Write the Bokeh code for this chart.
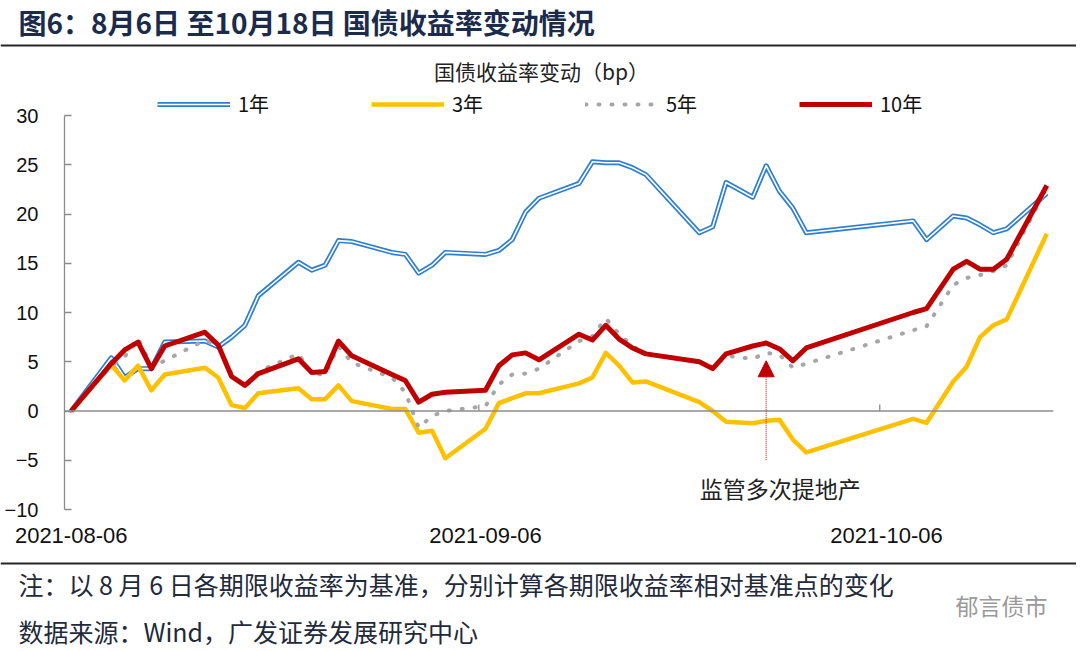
import pandas as pd
from bokeh.plotting import figure
from bokeh.layouts import column
from bokeh.models import (Range1d, FixedTicker, DatetimeTickFormatter, Span,
                          Legend, LegendItem, Arrow, NormalHead, Label)
from bokeh.core.properties import value
from bokeh.embed import file_html
from bokeh.resources import INLINE

# ---------------- data ----------------
dates = ["2021-08-06", "2021-08-09", "2021-08-10", "2021-08-11", "2021-08-12", "2021-08-13",
         "2021-08-16", "2021-08-17", "2021-08-18", "2021-08-19", "2021-08-20",
         "2021-08-23", "2021-08-24", "2021-08-25", "2021-08-26", "2021-08-27",
         "2021-08-30", "2021-08-31", "2021-09-01", "2021-09-02", "2021-09-03",
         "2021-09-06", "2021-09-07", "2021-09-08", "2021-09-09", "2021-09-10",
         "2021-09-13", "2021-09-14", "2021-09-15", "2021-09-16", "2021-09-17", "2021-09-18",
         "2021-09-22", "2021-09-23", "2021-09-24", "2021-09-26",
         "2021-09-27", "2021-09-28", "2021-09-29", "2021-09-30",
         "2021-10-08", "2021-10-09", "2021-10-11", "2021-10-12", "2021-10-13",
         "2021-10-14", "2021-10-15", "2021-10-18"]

y_1y = [0, 5.4, 3.4, 4.3, 4.3, 7.0,
        7.1, 6.5, 7.5, 8.7, 11.7,
        15.1, 14.3, 14.8, 17.3, 17.2,
        16.1, 15.9, 14.0, 14.8, 16.1,
        15.9, 16.3, 17.4, 20.2, 21.6,
        23.1, 25.3, 25.2, 25.2, 24.7, 24.0,
        18.1, 18.7, 23.2, 21.7,
        24.9, 22.3, 20.6, 18.1,
        19.3, 17.4, 19.8, 19.6, 18.9,
        18.1, 18.5, 22.1]

y_3y = [0, 4.7, 3.1, 4.6, 2.1, 3.7,
        4.4, 3.4, 0.6, 0.3, 1.8,
        2.3, 1.2, 1.2, 2.6, 1.0,
        0.2, 0.2, -2.2, -2.0, -4.8,
        -1.8, 0.8, 1.3, 1.8, 1.8,
        2.8, 3.4, 5.9, 4.6, 2.9, 3.0,
        0.9, 0.0, -1.1, -1.25,
        -1.0, -0.9, -2.9, -4.2,
        -0.8, -1.2, 3.0, 4.5, 7.5,
        8.7, 9.3, 18.0]

y_5y = [0, 4.6, 5.5, 7.4, 4.5, 5.1,
        7.2, 6.6, 3.8, 2.4, 4.0,
        5.8, 3.8, 3.7, 6.6, 4.9,
        3.4, 1.9, -1.7, -0.5, 0.0,
        0.5, 2.7, 3.7, 3.8, 4.3,
        7.1, 7.6, 9.4, 7.8, 6.6, 5.8,
        5.0, 4.4, 5.6, 5.3,
        5.9, 5.7, 4.4, 4.8,
        8.2, 8.6, 12.8, 13.5, 13.8,
        14.2, 14.8, 22.7]

y_10y = [0, 4.8, 6.2, 7.0, 4.3, 6.6,
         8.0, 6.7, 3.5, 2.6, 3.8,
         5.3, 3.9, 4.0, 7.1, 5.6,
         3.7, 3.1, 0.9, 1.7, 1.9,
         2.1, 4.6, 5.7, 5.9, 5.2,
         7.8, 7.2, 8.7, 7.3, 6.4, 5.8,
         5.0, 4.3, 5.8, 6.6,
         6.9, 6.3, 5.1, 6.4,
         10.0, 10.4, 14.4, 15.2, 14.4,
         14.4, 15.4, 22.9]

series_names = ["1年", "3年", "5年", "10年"]
x_tick_dates = ["2021-08-06", "2021-09-06", "2021-10-06"]
y_ticks = [-10, -5, 0, 5, 10, 15, 20, 25, 30]
x_start, x_end = "2021-08-06", "2021-10-18"

title_text = "图6：8月6日 至10月18日 国债收益率变动情况"
chart_title = "国债收益率变动（bp）"
note_text = "注：以 8 月 6 日各期限收益率为基准，分别计算各期限收益率相对基准点的变化"
source_text = "数据来源：Wind，广发证券发展研究中心"
watermark_text = "郁言债市"
annot_date = "2021-09-27"
annot_text = "监管多次提地产"
annot_y_from, annot_y_to, annot_text_y = -5.0, 5.1, -7.8

# ---------------- styling ----------------
W = 1076
HEAD_H, MAIN_H, FOOT_H = 86, 473, 89
CJK_NAME = "Noto Sans CJK SC"
CJK = value(CJK_NAME)
ARIAL = "Liberation Sans"
BLUE, YELLOW, GRAY, RED = "#2e7fd1", "#ffc000", "#a6a6a6", "#c00000"
AXIS_GRAY = "#8c8c8c"
HALF_DAY = pd.Timedelta(hours=12)
PX_PER_UNIT = 394 / 40.0                     # vertical scale of the value axis
LEGEND_ROOM = (115 - HEAD_H) / PX_PER_UNIT    # headroom above 30 for the legend row


def ms(ts):
    return pd.Timestamp(ts).value / 1e6


def no_align(f):
    try:
        f.frame_align = False
    except Exception:
        pass


def blank(h):
    f = figure(width=W, height=h, x_range=Range1d(0, W), y_range=Range1d(h, 0),
               x_axis_location=None, y_axis_location=None, min_border=0,
               output_backend="svg", toolbar_location=None)
    f.grid.visible = False
    f.outline_line_color = None
    no_align(f)
    return f


# ---------------- header ----------------
head = blank(HEAD_H)
head.text(x=[18], y=[21], text=[title_text], text_font=CJK, text_font_style="bold",
          text_font_size="28px", text_color="#1b2b4b", text_baseline="middle")
head.segment(x0=[0], y0=[45], x1=[W], y1=[45], line_color="#262626", line_width=2)
head.text(x=[541], y=[70], text=[chart_title], text_font=CJK, text_font_size="21px",
          text_color="#222222", text_align="center", text_baseline="middle")

# ---------------- main chart ----------------
x = pd.to_datetime(dates)
p = figure(width=W, height=MAIN_H, x_axis_type="datetime",
           x_range=Range1d(pd.Timestamp(x_start) - HALF_DAY, pd.Timestamp(x_end) + HALF_DAY),
           y_range=Range1d(y_ticks[0], y_ticks[-1] + LEGEND_ROOM),
           min_border_left=64, min_border_right=W - 1053, min_border_top=0,
           min_border_bottom=50, output_backend="svg", toolbar_location=None)
p.grid.visible = False
p.outline_line_color = None
no_align(p)

# zero line acting as x axis, with inside ticks between months
p.add_layout(Span(location=0, dimension="width", line_color=AXIS_GRAY, line_width=1.5))
tick_pos = [pd.Timestamp(d) - HALF_DAY for d in x_tick_dates[1:]]
p.segment(x0=tick_pos, y0=[0] * len(tick_pos), x1=tick_pos, y1=[0.65] * len(tick_pos),
          line_color=AXIS_GRAY, line_width=1.3)

r1a = p.line(x, y_1y, line_color=BLUE, line_width=5, line_join="round")
r1b = p.line(x, y_1y, line_color="white", line_width=1.6, line_join="round")
r3 = p.line(x, y_3y, line_color=YELLOW, line_width=4.5, line_join="round")
r5 = p.line(x, y_5y, line_color=GRAY, line_width=4, line_dash="1 12", line_cap="round",
            line_join="round")
r10 = p.line(x, y_10y, line_color=RED, line_width=5, line_join="round")

# x axis (labels only, at the bottom)
xa = p.xaxis[0]
xa.ticker = FixedTicker(ticks=[ms(d) for d in x_tick_dates])
fmt = "%Y-%m-%d"
xa.formatter = DatetimeTickFormatter(days=fmt, months=fmt, years=fmt, hours=fmt,
                                     hourmin=fmt, minutes=fmt, minsec=fmt, seconds=fmt,
                                     milliseconds=fmt, microseconds=fmt)
xa.axis_line_color = None
xa.major_tick_line_color = None
xa.minor_tick_line_color = None
xa.major_tick_in = 0
xa.major_tick_out = 0
xa.major_label_standoff = 18
xa.major_label_text_font = ARIAL
xa.major_label_text_font_size = "22px"
xa.major_label_text_color = "#111111"

ya = p.yaxis[0]
ya.ticker = FixedTicker(ticks=y_ticks)
ya.bounds = (y_ticks[0], y_ticks[-1])
ya.axis_line_color = AXIS_GRAY
ya.axis_line_width = 1.3
ya.major_tick_line_color = AXIS_GRAY
ya.major_tick_line_width = 1.3
ya.major_tick_in = 7
ya.major_tick_out = 0
ya.minor_tick_line_color = None
ya.major_label_standoff = 26
ya.major_label_text_font = ARIAL
ya.major_label_text_font_size = "20px"
ya.major_label_text_color = "#111111"

legend = Legend(items=[LegendItem(label=series_names[0], renderers=[r1a, r1b]),
                       LegendItem(label=series_names[1], renderers=[r3]),
                       LegendItem(label=series_names[2], renderers=[r5]),
                       LegendItem(label=series_names[3], renderers=[r10])],
                location=(93, 391), orientation="horizontal", glyph_width=73,
                glyph_height=20, label_height=20, label_standoff=8, label_width=42,
                spacing=91, padding=0, margin=0, border_line_color=None,
                background_fill_alpha=0, label_text_font=CJK_NAME,
                label_text_font_size="20px", label_text_color="#111111")
p.add_layout(legend)

ax = ms(annot_date)
p.add_layout(Arrow(end=NormalHead(size=16, fill_color=RED, line_color=RED, line_width=1),
                   x_start=ax, y_start=annot_y_from, x_end=ax, y_end=annot_y_to,
                   line_color=RED, line_width=1, line_dash="1 1"))
p.add_layout(Label(x=ax, y=annot_text_y, x_offset=14, text=annot_text, text_font=CJK_NAME,
                   text_font_size="23px", text_color="#222222", text_align="center",
                   text_baseline="middle"))

# ---------------- footer ----------------
foot = blank(FOOT_H)
foot.segment(x0=[0], y0=[4], x1=[W], y1=[4], line_color="#262626", line_width=2)
foot.text(x=[18], y=[24], text=[note_text], text_font=CJK, text_font_size="25px",
          text_color="#1f2a3a", text_baseline="middle")
foot.text(x=[18], y=[71], text=[source_text], text_font=CJK, text_font_size="25px",
          text_color="#1f2a3a", text_baseline="middle")
foot.text(x=[955], y=[45], text=[watermark_text], text_font=CJK, text_font_size="23px",
          text_color="#9a9a9a", text_baseline="middle")

layout = column(head, p, foot, spacing=0)
open("out.html", "w").write(file_html(layout, INLINE))
